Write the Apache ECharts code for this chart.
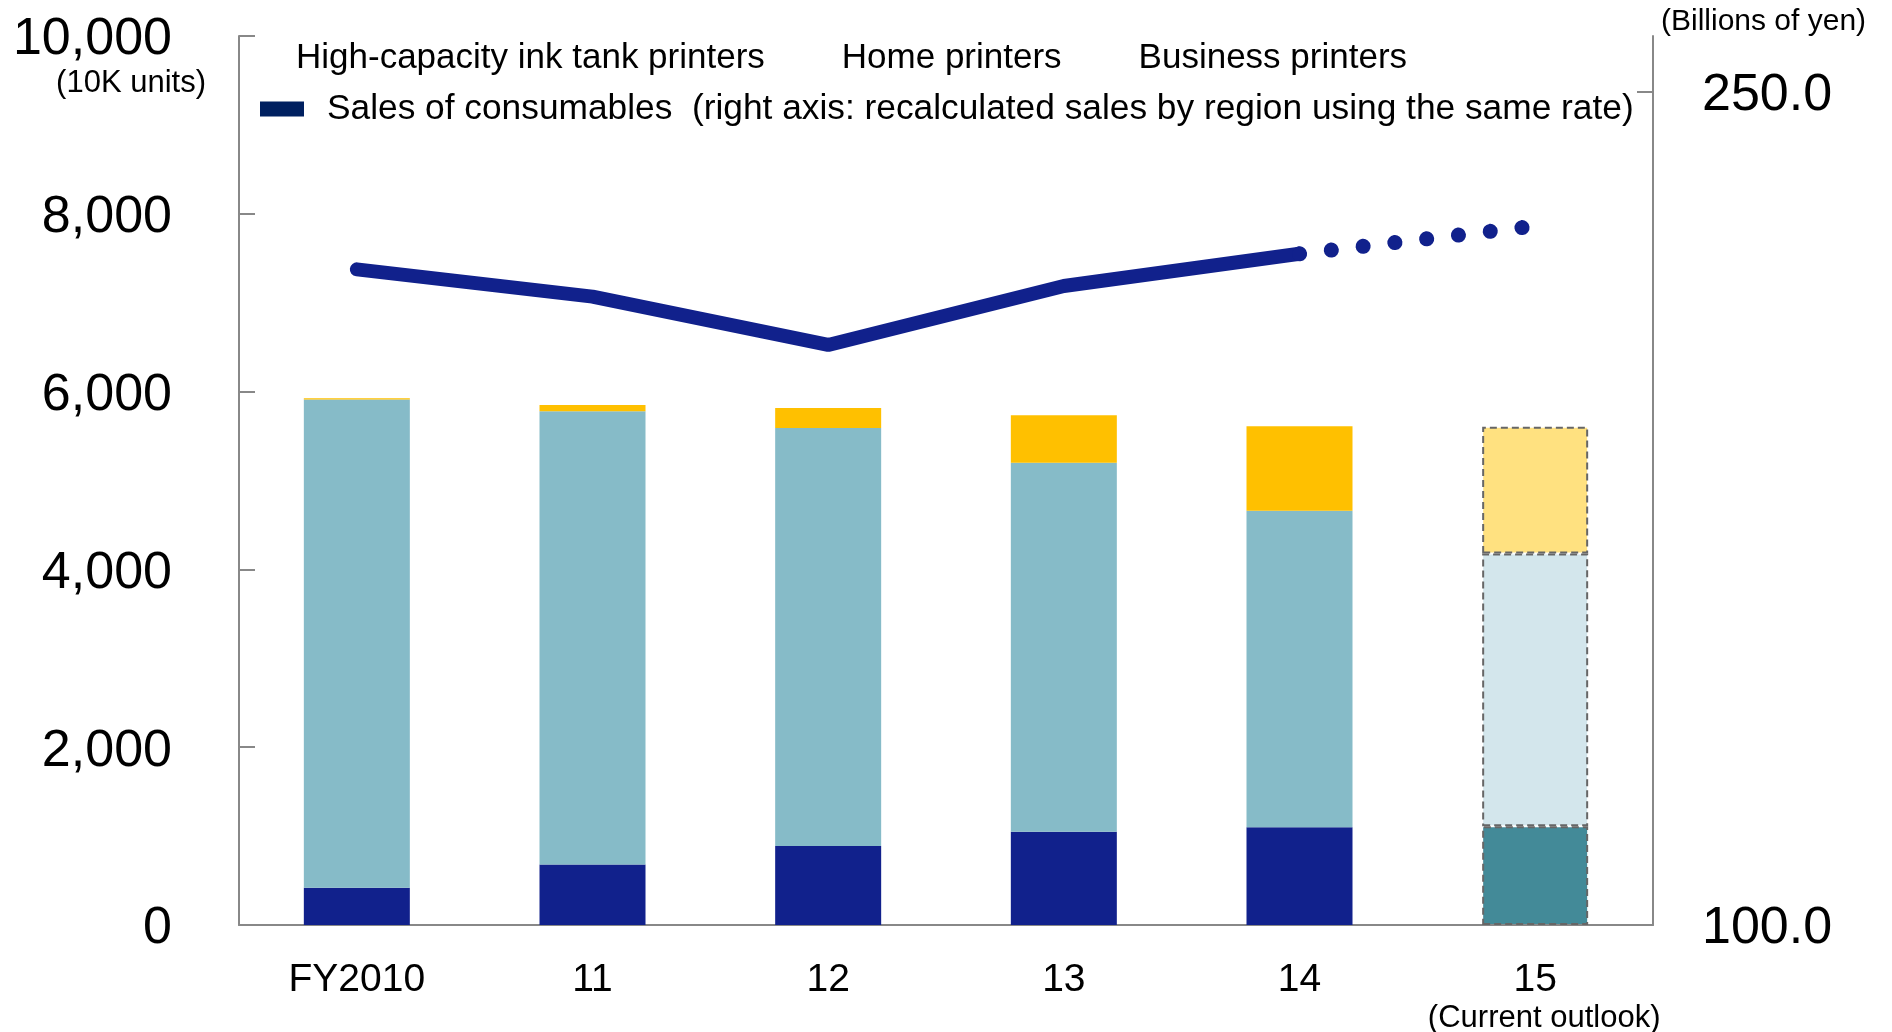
<!DOCTYPE html>
<html>
<head>
<meta charset="utf-8">
<script src="https://cdn.jsdelivr.net/npm/echarts@6/dist/echarts.min.js"></script>
<style>
html, body { margin: 0; padding: 0; background: #fff; }
#chart { width: 1892px; height: 1032px; }
</style>
</head>
<body>
<div id="chart"></div>
<script>
// data
const years = ["FY2010", "11", "12", "13", "14", "15"];
const business = [420, 680, 890, 1050, 1100, 1110];
const home = [5490, 5100, 4700, 4150, 3560, 3070];
const inkTank = [15, 70, 225, 535, 950, 1425];
const consumables = [218.0, 213.1, 204.4, 215.0, 220.8, null];
const consumablesOutlook = [null, null, null, null, 220.8, 225.8];
const leftTicks = [0, 2000, 4000, 6000, 8000, 10000];
const rightTicks = [100, 250];

const font = "Liberation Sans";
const salesName = "Sales of consumables  (right axis: recalculated sales by region using the same rate)";

// last bar is an outlook, drawn paler with dashed edges
function withOutlook(values, outlookColor) {
	return values.map((v, i) => {
		if (i < values.length - 1) return v;
		return {
			value: v,
			itemStyle: {
				color: outlookColor,
				borderColor: "#666",
				borderWidth: 2,
				borderType: [7, 4],
			},
		};
	});
}

// big tick numbers sit a little below their tick
const bigNum = { fontSize: 52, fontFamily: font, color: "#000", padding: [8, 0, 0, 0] };

let myChart = echarts.init(document.getElementById("chart"));
let option = {
	animation: false,
	textStyle: { fontFamily: font, color: "#000" },
	grid: { left: 239, right: 239, top: 36, bottom: 107, containLabel: false, outerBoundsMode: "none" },
	legend: [
		{
			data: ["High-capacity ink tank printers", "Home printers", "Business printers"],
			left: 286,
			top: 33,
			itemWidth: 0,
			itemHeight: 0,
			itemGap: 72,
			selectedMode: false,
			textStyle: { fontSize: 35, fontFamily: font, color: "#000", lineHeight: 40 },
		},
		{
			data: [salesName],
			left: 255,
			top: 84,
			itemWidth: 44,
			itemHeight: 15,
			selectedMode: false,
			icon: "rect",
			itemStyle: { color: "#002060" },
			textStyle: { fontSize: 35.3, fontFamily: font, color: "#000", lineHeight: 40, padding: [0, 0, 0, 18] },
		},
	],
	xAxis: {
		type: "category",
		data: years,
		axisLine: { lineStyle: { color: "#888", width: 2 } },
		axisTick: { inside: true, length: 15, lineStyle: { color: "#888", width: 2 } },
		axisLabel: {
			margin: 32,
			formatter: (v) => (v === "15" ? "{a|15}\n{b|(Current outlook)}" : "{a|" + v + "}"),
			rich: {
				a: { fontSize: 39, fontFamily: font, color: "#000", lineHeight: 46 },
				b: { fontSize: 31, fontFamily: font, color: "#000", lineHeight: 30, padding: [0, 0, 0, 18] },
			},
		},
	},
	yAxis: [
		{
			type: "value",
			min: 0,
			max: 10000,
			interval: 2000,
			splitLine: { show: false },
			axisLine: { show: true, lineStyle: { color: "#888", width: 2 } },
			axisTick: { show: true, inside: true, length: 16, lineStyle: { color: "#888", width: 2 } },
			axisLabel: {
				margin: 67,
				customValues: leftTicks,
				formatter: (v) => "{n|" + v.toLocaleString("en-US") + "}",
				rich: { n: bigNum },
			},
		},
		{
			type: "value",
			position: "right",
			min: 100,
			max: 260,
			splitLine: { show: false },
			axisLine: { show: true, lineStyle: { color: "#888", width: 2 } },
			axisTick: { show: true, inside: true, length: 16, customValues: [250], lineStyle: { color: "#888", width: 2 } },
			axisLabel: {
				margin: 49,
				customValues: rightTicks,
				formatter: (v) => "{n|" + v.toFixed(1) + "}",
				rich: { n: bigNum },
			},
		},
	],
	graphic: [
		{
			type: "text",
			x: 206,
			y: 83,
			style: { text: "(10K units)", font: "31px " + font, fill: "#000", align: "right", verticalAlign: "middle" },
		},
		{
			type: "text",
			x: 1661,
			y: 22,
			style: { text: "(Billions of yen)", font: "30px " + font, fill: "#000", align: "left", verticalAlign: "middle" },
		},
	],
	series: [
		{
			name: "Business printers",
			type: "bar",
			stack: "units",
			barWidth: 106,
			itemStyle: { color: "#11218C" },
			data: withOutlook(business, "#438A98"),
		},
		{
			name: "Home printers",
			type: "bar",
			stack: "units",
			barWidth: 106,
			itemStyle: { color: "#86BBC8" },
			data: withOutlook(home, "#D3E6EC"),
		},
		{
			name: "High-capacity ink tank printers",
			type: "bar",
			stack: "units",
			barWidth: 106,
			itemStyle: { color: "#FFC000" },
			data: withOutlook(inkTank, "#FFE180"),
		},
		{
			name: salesName,
			type: "line",
			yAxisIndex: 1,
			symbol: "none",
			lineStyle: { color: "#11218C", width: 14, cap: "round" },
			itemStyle: { color: "#002060" },
			data: consumables,
			z: 5,
		},
		{
			name: "outlook",
			type: "line",
			yAxisIndex: 1,
			symbol: "none",
			lineStyle: { color: "#11218C", width: 15, type: [0.1, 31.9], cap: "round" },
			data: consumablesOutlook,
			z: 5,
		},
	],
};
myChart.setOption(option);
</script>
</body>
</html>
